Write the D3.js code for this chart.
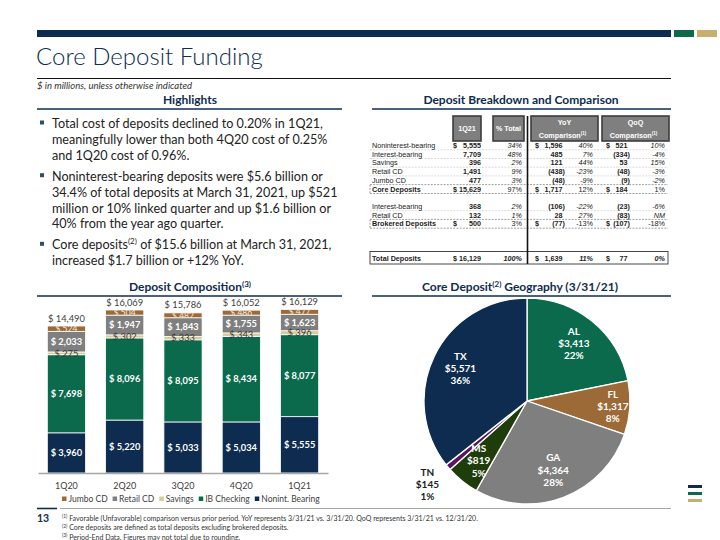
<!DOCTYPE html>
<html><head><meta charset="utf-8">
<script src="https://cdn.jsdelivr.net/npm/d3@7"></script>
<style>body{margin:0;background:#fff}svg{display:block}</style>
</head><body><svg id="c" width="720" height="540"></svg>
<script>
// ---------- data ----------
const quarters = ["1Q20","2Q20","3Q20","4Q20","1Q21"];
const nonintBearing = [3960,5220,5033,5034,5555];
const ibChecking   = [7698,8096,8095,8434,8077];
const savings      = [275,302,333,343,396];
const retailCD     = [2033,1947,1843,1755,1623];
const jumboCD      = [524,504,482,486,477];
const quarterTotals = [14490,16069,15786,16052,16129];
const seriesNames  = ["Nonint. Bearing","IB Checking","Savings","Retail CD","Jumbo CD"];
const legendOrder  = ["Jumbo CD","Retail CD","Savings","IB Checking","Nonint. Bearing"];

const geoStates = ["AL","FL","GA","MS","TN","TX"];
const geoValues = [3413,1317,4364,819,145,5571];
const geoPcts   = ["22%","8%","28%","5%","1%","36%"];

const tableLabels = ["Noninterest-bearing","Interest-bearing","Savings","Retail CD","Jumbo CD","Core Deposits","Interest-bearing","Retail CD","Brokered Deposits","Total Deposits"];
const q1Values  = [5555,7709,396,1491,477,15629,368,132,500,16129];
const pctTotal  = ["34%","48%","2%","9%","3%","97%","2%","1%","3%","100%"];
const yoyValues = [1596,485,121,-438,-48,1717,-106,28,-77,1639];
const yoyPct    = ["40%","7%","44%","-23%","-9%","12%","-22%","27%","-13%","11%"];
const qoqValues = [521,-334,53,-48,-9,184,-23,-83,-107,77];
const qoqPct    = ["10%","-4%","15%","-3%","-2%","1%","-6%","NM","-18%","0%"];

const highlights = [
  ["Total cost of deposits declined to 0.20% in 1Q21,","meaningfully lower than both 4Q20 cost of 0.25%","and 1Q20 cost of 0.96%."],
  ["Noninterest-bearing deposits were $5.6 billion or","34.4% of total deposits at March 31, 2021, up $521","million or 10% linked quarter and up $1.6 billion or","40% from the year ago quarter."],
  ["Core deposits|(2)| of $15.6 billion at March 31, 2021,","increased $1.7 billion or +12% YoY."]
];
const footnotes = [
  ["(1)","Favorable (Unfavorable) comparison versus prior period. YoY represents 3/31/21 vs. 3/31/20.  QoQ represents 3/31/21 vs. 12/31/20."],
  ["(2)","Core deposits are defined as total deposits excluding brokered deposits."],
  ["(3)","Period-End Data.  Figures may not total due to rounding."]
];

// ---------- style ----------
const NAVY="#0d2c4f", GREEN="#0b6a4c", GOLD="#c6b06b", BROWN="#9b6a37", GREY="#7f7f7f",
      BEIGE="#d8cb9b", DKGREEN="#1e3d0b", PURPLE="#5a1560";
const FONT="Lato, 'Open Sans', sans-serif";
const TFONT="'Liberation Sans', Arial, sans-serif";
const seriesColor = {"Nonint. Bearing":NAVY,"IB Checking":GREEN,"Savings":BEIGE,"Retail CD":GREY,"Jumbo CD":BROWN};
const geoColor = {AL:GREEN,FL:BROWN,GA:GREY,MS:DKGREEN,TN:PURPLE,TX:NAVY};

const svg = d3.select("#c");
const defs = svg.append("defs");

// ---------- header ----------
svg.append("rect").attr("x",37).attr("y",30).attr("width",634).attr("height",7).attr("fill",NAVY);
svg.append("rect").attr("x",674).attr("y",30).attr("width",20).attr("height",7).attr("fill",GREEN);
svg.append("rect").attr("x",697).attr("y",30).attr("width",20).attr("height",7).attr("fill",GOLD);
svg.append("text").attr("x",36).attr("y",65).attr("font-family",FONT).attr("font-size",24)
  .attr("font-weight",300).attr("fill",NAVY).text("Core Deposit Funding");
svg.append("line").attr("x1",37).attr("x2",671).attr("y1",78.5).attr("y2",78.5).attr("stroke","#111").attr("stroke-width",1.2);
svg.append("text").attr("x",37).attr("y",89).attr("font-family",FONT).attr("font-size",9.5)
  .attr("font-style","italic").attr("fill","#333").text("$ in millions, unless otherwise indicated");

function sectionHeader(cx, y, x1, x2, main, sup, tail){
  const t = svg.append("text").attr("x",cx).attr("y",y).attr("text-anchor","middle")
    .attr("font-family",FONT).attr("font-size",12).attr("font-weight","bold").attr("fill",NAVY);
  t.append("tspan").text(main);
  if(sup){ t.append("tspan").attr("font-size",8).attr("dy",-4).text(sup);
           if(tail) t.append("tspan").attr("dy",4).attr("font-size",12).text(tail); }
  svg.append("line").attr("x1",x1).attr("x2",x2).attr("y1",y+5).attr("y2",y+5).attr("stroke",NAVY).attr("stroke-width",1.5);
}
sectionHeader(190,104,37,342,"Highlights");
sectionHeader(521,104,372,671,"Deposit Breakdown and Comparison");
sectionHeader(190,291,37,342,"Deposit Composition","(3)");
sectionHeader(520,291,372,671,"Core Deposit","(2)"," Geography (3/31/21)");

// ---------- highlights ----------
{
  let y = 128;
  highlights.forEach((para)=>{
    svg.append("rect").attr("x",40).attr("y",y-7.5).attr("width",4).attr("height",4).attr("fill","#2f4d6e");
    para.forEach(line=>{
      const t = svg.append("text").attr("x",52).attr("y",y).attr("font-family",FONT).attr("font-size",12.6).attr("fill","#222");
      const parts = line.split("|");
      parts.forEach((p,i)=>{
        if(i===1) t.append("tspan").attr("font-size",8).attr("dy",-5).text(p);
        else if(i===2) t.append("tspan").attr("dy",5).text(p);
        else t.append("tspan").text(p);
      });
      y += 15.9;
    });
    y += 5;
  });
}

// ---------- table ----------
{
  const g = svg.append("g").attr("font-family",TFONT).attr("font-size",7.2).attr("fill","#222");
  const boxes = [[453,28,["1Q21"]],[493,31,["% Total"]],[531,67,["YoY","Comparison"]],[602,67,["QoQ","Comparison"]]];
  boxes.forEach(([x,w,lines])=>{
    g.append("rect").attr("x",x).attr("y",116).attr("width",w).attr("height",25).attr("fill",GREY)
      .attr("stroke","#3d3d3d").attr("stroke-width",1.6);
    if(lines.length===1){
      g.append("text").attr("x",x+w/2).attr("y",131).attr("text-anchor","middle").attr("fill","#fff").attr("font-weight","bold").text(lines[0]);
    } else {
      g.append("text").attr("x",x+w/2).attr("y",125).attr("text-anchor","middle").attr("fill","#fff").attr("font-weight","bold").text(lines[0]);
      const t=g.append("text").attr("x",x+w/2-2).attr("y",137.5).attr("text-anchor","middle").attr("fill","#fff").attr("font-weight","bold");
      t.append("tspan").text(lines[1]);
      t.append("tspan").attr("font-size",4.5).attr("dy",-3).text("(1)");
    }
  });
  const rowY = [145.5,154.2,162.9,171.6,180.3,189.2,206.4,215.1,223.9,258];
  const dollarRows = new Set([0,5,8,9]);
  const boldRows = new Set([5,8,9]);
  const fmt = v => v<0 ? "("+d3.format(",")(-v)+")" : d3.format(",")(v);
  const PAR = 2.4;
  rowY.forEach((y,i)=>{
    if(i===9) return;
    const strong = (i===4||i===5||i===7||i===8);
    g.append("line").attr("x1",370).attr("x2",668).attr("y1",y+4.3).attr("y2",y+4.3)
      .attr("stroke",strong?"#777":"#ccc").attr("stroke-width",0.7).attr("stroke-dasharray","2,1.2");
  });
  [5,8].forEach(i=>{
    g.append("line").attr("x1",370).attr("x2",370).attr("y1",rowY[i]-4.4).attr("y2",rowY[i]+4.3)
      .attr("stroke","#777").attr("stroke-width",0.7).attr("stroke-dasharray","2,1.2");
  });
  g.append("rect").attr("x",370).attr("y",251.5).attr("width",298).attr("height",12.5).attr("fill","none").attr("stroke","#333").attr("stroke-width",0.9);
  g.append("line").attr("x1",527.5).attr("x2",527.5).attr("y1",116).attr("y2",264).attr("stroke","#111").attr("stroke-width",1.6);

  tableLabels.forEach((lab,i)=>{
    const y = rowY[i]+2.5;
    const b = boldRows.has(i) ? "bold" : "normal";
    g.append("text").attr("x",372).attr("y",y).attr("font-weight",b).text(lab);
    const num = (x, v) => g.append("text").attr("x", v<0 ? x : x-PAR).attr("y",y).attr("text-anchor","end").attr("font-weight","bold").text(fmt(v));
    const pct = (x, s) => g.append("text").attr("x",x).attr("y",y).attr("text-anchor","end")
      .attr("font-style", (i===5||i===8) ? "normal":"italic").attr("font-weight", i===9?"bold":"normal").text(s);
    if(dollarRows.has(i)){
      g.append("text").attr("x",453).attr("y",y).attr("font-weight","bold").text("$");
      g.append("text").attr("x",535).attr("y",y).attr("font-weight","bold").text("$");
      g.append("text").attr("x",606).attr("y",y).attr("font-weight","bold").text("$");
    }
    g.append("text").attr("x",481).attr("y",y).attr("text-anchor","end").attr("font-weight","bold").text(fmt(q1Values[i]));
    pct(522, pctTotal[i]);
    num(565, yoyValues[i]);
    pct(593, yoyPct[i]);
    num(630, qoqValues[i]);
    pct(665, qoqPct[i]);
  });
}

// ---------- stacked bar chart ----------
{
  const x = d3.scaleBand().domain(quarters).range([38,328]).paddingInner(0.345).paddingOuter(0.16);
  const y = d3.scaleLinear().domain([0,16069]).range([473,310]);
  const rows = quarters.map((q,i)=>({q, "Nonint. Bearing":nonintBearing[i], "IB Checking":ibChecking[i],
      "Savings":savings[i], "Retail CD":retailCD[i], "Jumbo CD":jumboCD[i], total:quarterTotals[i]}));
  const stack = d3.stack().keys(seriesNames)(rows);
  const g = svg.append("g");
  stack.forEach(s=>{
    g.selectAll(null).data(s).join("rect")
      .attr("x",d=>x(d.data.q)).attr("width",x.bandwidth())
      .attr("y",d=>y(d[1])).attr("height",d=>y(d[0])-y(d[1]))
      .attr("fill",seriesColor[s.key]).attr("stroke","#fff").attr("stroke-width",0.8);
  });
  // clip paths for the thin jumbo band labels
  const jumbo = stack.find(s=>s.key==="Jumbo CD");
  jumbo.forEach((d,i)=>{
    defs.append("clipPath").attr("id","jclip"+i).append("rect")
      .attr("x",x(d.data.q)).attr("width",x.bandwidth())
      .attr("y",y(d[1])).attr("height",y(d[0])-y(d[1]));
  });
  const fmt = v => "$ " + d3.format(",")(v);
  stack.forEach(s=>{
    const key = s.key;
    g.selectAll(null).data(s).join("text")
      .attr("x",d=>x(d.data.q)+x.bandwidth()/2)
      .attr("y",d=>(y(d[0])+y(d[1]))/2 + 3.3)
      .attr("text-anchor","middle").attr("font-family",FONT)
      .attr("font-size", key==="Jumbo CD" ? 8.5 : 9.3)
      .attr("font-weight", (key==="Savings"||key==="Jumbo CD") ? "normal" : "bold")
      .attr("fill", key==="Savings" ? "#3a3a3a" : (key==="Jumbo CD" ? "#f4e9da" : "#fff"))
      .attr("clip-path",(d,i)=> key==="Jumbo CD" ? `url(#jclip${i})` : null)
      .text(d=>fmt(d.data[key]));
  });
  g.selectAll(null).data(rows).join("text")
    .attr("x",d=>x(d.q)+x.bandwidth()/2).attr("y",d=>y(d.total)-4.5)
    .attr("text-anchor","middle").attr("font-family",FONT).attr("font-size",9.3).attr("fill","#404040")
    .text(d=>fmt(d.total));
  const ax = g.append("g").attr("transform","translate(0,473)")
    .call(d3.axisBottom(x).tickSize(0).tickPadding(10).tickSizeOuter(0));
  ax.select(".domain").attr("stroke","#a6a6a6").attr("stroke-width",1.6);
  ax.selectAll("text").attr("font-family",FONT).attr("font-size",9).attr("fill","#404040");
  const lg = g.append("g").attr("font-family",FONT).attr("font-size",8.5).attr("fill","#404040");
  let lx = 62;
  legendOrder.forEach(k=>{
    lg.append("rect").attr("x",lx).attr("y",496.5).attr("width",4.5).attr("height",4.5).attr("fill",seriesColor[k]);
    const t = lg.append("text").attr("x",lx+6.5).attr("y",502).text(k);
    lx += 6.5 + t.node().getComputedTextLength() + 5;
  });
}

// ---------- pie ----------
{
  const cx=527, cy=401, R=103;
  const pie = d3.pie().sort(null).value(d=>d.v)(geoStates.map((s,i)=>({s, v:geoValues[i], p:geoPcts[i]})));
  const arc = d3.arc().innerRadius(0).outerRadius(R);
  const g = svg.append("g").attr("transform",`translate(${cx},${cy})`);
  g.selectAll("path").data(pie).join("path").attr("d",arc)
    .attr("fill",d=>geoColor[d.data.s]).attr("stroke","#fff").attr("stroke-width",1.3);
  const labelR = {FL:86, MS:77, TN:130};
  pie.forEach(d=>{
    const r = labelR[d.data.s] || 74;
    const c = d3.arc().innerRadius(r).outerRadius(r).centroid(d);
    const inside = d.data.s!=="TN";
    const t = g.append("text").attr("text-anchor","middle").attr("font-family",FONT).attr("font-size",10)
      .attr("font-weight","bold").attr("fill", inside ? "#fff" : "#222");
    [d.data.s, "$"+d3.format(",")(d.data.v), d.data.p].forEach((s,j)=>{
      t.append("tspan").attr("x",c[0]).attr("y",c[1]+3.5+(j-1)*12.2).text(s);
    });
  });
}

// ---------- footer ----------
svg.append("line").attr("x1",37).attr("x2",57).attr("y1",508.5).attr("y2",508.5).attr("stroke",NAVY).attr("stroke-width",1.6);
svg.append("line").attr("x1",60).attr("x2",671).attr("y1",508.5).attr("y2",508.5).attr("stroke","#a6a6a6").attr("stroke-width",1);
svg.append("rect").attr("x",688).attr("y",485).attr("width",14).attr("height",3).attr("fill",NAVY);
svg.append("rect").attr("x",688).attr("y",492).attr("width",14).attr("height",3).attr("fill",GREEN);
svg.append("rect").attr("x",688).attr("y",499).attr("width",14).attr("height",3).attr("fill",GOLD);
svg.append("text").attr("x",37).attr("y",522).attr("font-family",FONT).attr("font-size",10.5).attr("font-weight","bold").attr("fill",NAVY).text("13");
footnotes.forEach(([sup,txt],i)=>{
  const t = svg.append("text").attr("x",62).attr("y",520.5+i*9.5).attr("font-family",FONT).attr("font-size",7).attr("fill","#333");
  t.append("tspan").attr("font-size",4.8).attr("dy",-2.5).text(sup);
  t.append("tspan").attr("dy",2.5).text(" "+txt);
});
</script></body></html>
